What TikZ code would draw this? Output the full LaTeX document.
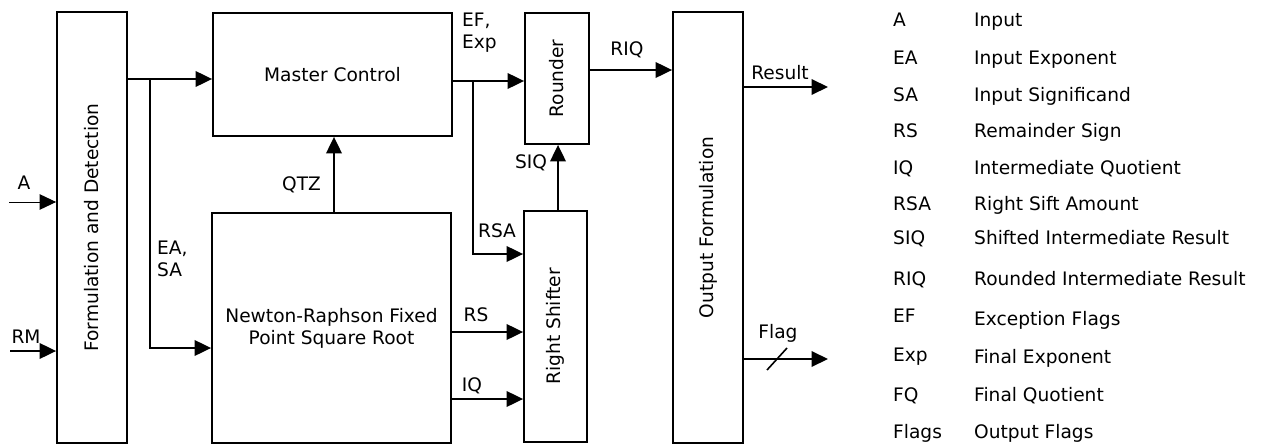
\documentclass[tikz,border=0pt]{standalone}
\usepackage{fontspec}
\setmainfont{DejaVu Sans}
\usetikzlibrary{arrows.meta}
\begin{document}
\begin{tikzpicture}[x=1pt,y=-1pt,
  box/.style={draw, line width=1.8pt, inner sep=0pt, font=\fsz},
  conn/.style={line width=2pt, -{Triangle[length=16.5pt,width=15.5pt]}},
  thinconn/.style={line width=1pt, -{Triangle[length=16.5pt,width=15.5pt]}},
  lbl/.style={inner sep=0pt, font=\fsz, anchor=base},
  leg/.style={inner sep=0pt, font=\fsz, anchor=base west}]
\newcommand{\fsz}{\fontsize{18.6}{22}\selectfont}
\useasboundingbox (0,0) rectangle (1277,447);
% boxes
\node[box, minimum width=70pt, minimum height=431pt] (fd) at (92,227.5) {\rotatebox{90}{Formulation and Detection}};
\node[box, minimum width=239pt, minimum height=123pt] (mc) at (332.5,74.5) {Master Control};
\node[box, minimum width=239pt, minimum height=230pt, align=center] (nr) at (331.5,328) {Newton-Raphson Fixed\\Point Square Root};
\node[box, minimum width=64pt, minimum height=131pt] (rd) at (557,78.5) {\rotatebox{90}{Rounder}};
\node[box, minimum width=63pt, minimum height=231pt] (rs) at (555.5,326.5) {\rotatebox{90}{Right Shifter}};
\node[box, minimum width=70pt, minimum height=431pt] (of) at (708,227.5) {\rotatebox{90}{Output Formulation}};
% coordinates
\coordinate (ain) at (9,202);
\coordinate (rmin) at (10,351);
\coordinate (j1) at (150,79);
\coordinate (j2) at (473,81);
\coordinate (resout) at (828,87);
\coordinate (flagout) at (828,359);
% connectors
\draw[thinconn] (ain) -- (fd.west |- ain);
\draw[conn] (rmin) -- (fd.west |- rmin);
\draw[conn] (fd.east |- j1) -- (mc.west |- j1);
\draw[conn] (j1) -- (150,348) -- (nr.west |- 0,348);
\draw[conn] (nr.north -| 334,0) -- (mc.south -| 334,0);
\draw[conn] (mc.east |- j2) -- (rd.west |- j2);
\draw[conn] (j2) -- (473,254) -- (rs.west |- 0,254);
\draw[conn] (nr.east |- 0,332) -- (rs.west |- 0,332);
\draw[conn] (nr.east |- 0,399) -- (rs.west |- 0,399);
\draw[conn] (rs.north -| 558,0) -- (rd.south -| 558,0);
\draw[conn] (rd.east |- 0,70) -- (of.west |- 0,70);
\draw[conn] (of.east |- resout) -- (resout);
\draw[conn] (of.east |- flagout) -- (flagout);
\draw[line width=1.6pt] (767,370) -- (787,348);
% labels
\node[lbl] (la) at (24,189) {A};
\node[lbl] (lrm) at (26,343) {RM};
\node[lbl, anchor=base west, align=left] (leasa) at (157,276) {EA,\\SA};
\node[lbl] (lqtz) at (301.5,190) {QTZ};
\node[lbl, anchor=base west, align=left] (lefexp) at (462,48) {EF,\\Exp};
\node[lbl] (lrsa) at (497,237) {RSA};
\node[lbl] (lrs) at (476,321) {RS};
\node[lbl] (liq) at (472,391) {IQ};
\node[lbl] (lsiq) at (531,168) {SIQ};
\node[lbl] (lriq) at (627,55) {RIQ};
\node[lbl] (lres) at (780,79) {Result};
\node[lbl] (lflag) at (778,338) {Flag};
% legend
\node[leg] (k1) at (893,27) {A};          \node[leg] (d1) at (974,27) {Input};
\node[leg] (k2) at (893,64) {EA};         \node[leg] (d2) at (974,64) {Input Exponent};
\node[leg] (k3) at (893,101) {SA};        \node[leg] (d3) at (974,101) {Input Significand};
\node[leg] (k4) at (893,137) {RS};        \node[leg] (d4) at (974,137) {Remainder Sign};
\node[leg] (k5) at (893,174) {IQ};        \node[leg] (d5) at (974,174) {Intermediate Quotient};
\node[leg] (k6) at (893,210) {RSA};       \node[leg] (d6) at (974,210) {Right Sift Amount};
\node[leg] (k7) at (893,244) {SIQ};       \node[leg] (d7) at (974,244) {Shifted Intermediate Result};
\node[leg] (k8) at (893,285) {RIQ};       \node[leg] (d8) at (974,285) {Rounded Intermediate Result};
\node[leg] (k9) at (893,322) {EF};        \node[leg] (d9) at (974,325) {Exception Flags};
\node[leg] (k10) at (893,361) {Exp};      \node[leg] (d10) at (974,363) {Final Exponent};
\node[leg] (k11) at (893,401) {FQ};       \node[leg] (d11) at (974,401) {Final Quotient};
\node[leg] (k12) at (893,438) {Flags};    \node[leg] (d12) at (974,438) {Output Flags};
\end{tikzpicture}
\end{document}
